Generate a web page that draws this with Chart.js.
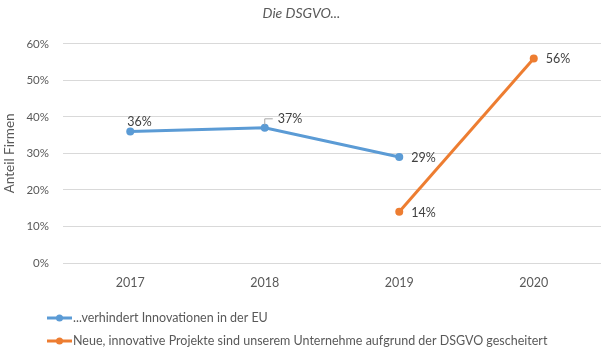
<!DOCTYPE html>
<html><head><meta charset="utf-8">
<script src="https://cdn.jsdelivr.net/npm/chart.js@4"></script>
<style>html,body{margin:0;padding:0;background:#fff}#wrap{width:605px;height:352px}</style>
</head><body><div id="wrap"><canvas id="c" width="605" height="352"></canvas></div>
<script>
const categories = ['2017', '2018', '2019', '2020'];
const seriesNames = ['...verhindert Innovationen in der EU', 'Neue, innovative Projekte sind unserem Unternehme aufgrund der DSGVO gescheitert'];
const innovationValues = [36, 37, 29, null];
const failedProjectValues = [null, null, 14, 56];
const yTicks = [0, 10, 20, 30, 40, 50, 60];
const titleText = 'Die DSGVO...';
const yTitle = 'Anteil Firmen';

const FONT = 'Lato, "Liberation Sans", sans-serif';
const GREY = '#595959';
const colors = ['#5B9BD5', '#ED7D31'];
// label placement per dataset/point
const labelPlace = [['aboveRight', 'leader', 'right', null], [null, null, 'right', 'right']];

const labelPlugin = {
  id: 'pctLabels',
  afterDatasetsDraw(chart) {
    const ctx = chart.ctx;
    ctx.save();
    ctx.font = '12.5px ' + FONT;
    ctx.fillStyle = '#404040';
    ctx.textBaseline = 'middle';
    chart.data.datasets.forEach((ds, di) => {
      const meta = chart.getDatasetMeta(di);
      meta.data.forEach((pt, i) => {
        const v = ds.data[i];
        if (v == null) return;
        const t = v + '%';
        const p = labelPlace[di][i];
        ctx.textAlign = 'left';
        if (p === 'aboveRight') {
          ctx.fillText(t, pt.x - 3, pt.y - 10);
        } else if (p === 'leader') {
          ctx.strokeStyle = '#A6A6A6';
          ctx.lineWidth = 1;
          ctx.beginPath();
          ctx.moveTo(pt.x, pt.y - 3);
          ctx.lineTo(pt.x, pt.y - 9);
          ctx.lineTo(pt.x + 8, pt.y - 9);
          ctx.stroke();
          ctx.fillText(t, pt.x + 13, pt.y - 9);
        } else {
          ctx.fillText(t, pt.x + 12, pt.y + 1);
        }
      });
    });
    ctx.restore();
  }
};

const legendPlugin = {
  id: 'bottomLegend',
  afterDraw(chart) {
    const ctx = chart.ctx;
    ctx.save();
    ctx.font = '12.5px ' + FONT;
    ctx.fillStyle = GREY;
    ctx.textBaseline = 'middle';
    ctx.textAlign = 'left';
    chart.data.datasets.forEach((ds, i) => {
      const y = 318 + i * 23;
      ctx.strokeStyle = ds.borderColor;
      ctx.lineWidth = 3;
      ctx.beginPath();
      ctx.moveTo(47, y);
      ctx.lineTo(72, y);
      ctx.stroke();
      ctx.fillStyle = ds.borderColor;
      ctx.beginPath();
      ctx.arc(59.5, y, 3.5, 0, Math.PI * 2);
      ctx.fill();
      ctx.fillStyle = GREY;
      ctx.fillText(ds.label, 73, y);
    });
    ctx.restore();
  }
};

new Chart(document.getElementById('c'), {
  type: 'line',
  data: {
    labels: categories,
    datasets: [
      { label: seriesNames[0], data: innovationValues, borderColor: colors[0], backgroundColor: colors[0], borderWidth: 3, pointRadius: 4, pointBackgroundColor: colors[0], pointBorderWidth: 0, spanGaps: false },
      { label: seriesNames[1], data: failedProjectValues, borderColor: colors[1], backgroundColor: colors[1], borderWidth: 3, pointRadius: 4, pointBackgroundColor: colors[1], pointBorderWidth: 0, spanGaps: false }
    ]
  },
  options: {
    responsive: false,
    animation: false,
    devicePixelRatio: 1,
    layout: { padding: { left: 0, right: 2, top: 0, bottom: 59 } },
    plugins: {
      legend: { display: false },
      tooltip: { enabled: false },
      title: { display: true, text: titleText, color: GREY, font: { family: FONT, size: 14, style: 'italic', weight: 'normal' }, padding: { top: 5, bottom: 22 } }
    },
    scales: {
      x: {
        offset: true,
        grid: { display: false, drawTicks: false },
        border: { display: false },
        ticks: { color: GREY, font: { family: FONT, size: 12.5 }, padding: 12 },
        afterFit(s) { s.height = 30; }
      },
      y: {
        min: 0, max: 60,
        afterBuildTicks(s) { s.ticks = yTicks.map(v => ({ value: v })); },
        grid: { color: '#D9D9D9', lineWidth: 1, drawTicks: false },
        border: { display: false },
        ticks: { color: GREY, font: { family: FONT, size: 11.5 }, padding: 14, callback: v => v + '%' },
        title: { display: true, text: yTitle, color: GREY, font: { family: FONT, size: 13.5 }, padding: { top: 2, bottom: 4 } },
        afterFit(s) { s.width = 63; }
      }
    }
  },
  plugins: [labelPlugin, legendPlugin]
});
</script>
</body></html>
